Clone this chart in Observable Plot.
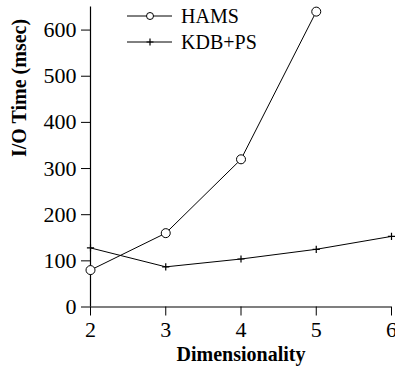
<!DOCTYPE html>
<html><head><meta charset="utf-8">
<script src="https://cdn.jsdelivr.net/npm/d3@7"></script>
<script src="https://cdn.jsdelivr.net/npm/@observablehq/plot@0.6"></script>
<style>
body{margin:0;background:#fff}
</style>
</head><body><div id="chart"></div>
<script>
const xTicks = [2, 3, 4, 5, 6];
const yTicks = [0, 100, 200, 300, 400, 500, 600];
const hamsDims = [2, 3, 4, 5];
const hamsValues = [80, 160, 320, 640];
const kdbDims = [2, 3, 4, 5, 6];
const kdbValues = [128, 87, 104, 125, 153];
const seriesNames = ["HAMS", "KDB+PS"];
const xLabel = "Dimensionality";
const yLabel = "I/O Time (msec)";

const hams = hamsDims.map((d, i) => ({dim: d, value: hamsValues[i]}));
const kdb = kdbDims.map((d, i) => ({dim: d, value: kdbValues[i]}));

const plusSymbol = {
  draw(ctx, size) {
    const r = Math.sqrt(size / Math.PI);
    ctx.moveTo(-r, 0); ctx.lineTo(r, 0);
    ctx.moveTo(0, -r); ctx.lineTo(0, r);
  }
};

const serif = "Liberation Serif";

const plot = Plot.plot({
  width: 395, height: 369,
  marginLeft: 90, marginRight: 4, marginTop: 6.5, marginBottom: 62.5,
  style: {fontFamily: serif, fontSize: "22px", color: "black", background: "white", overflow: "visible"},
  x: {domain: [2, 6]},
  y: {domain: [0, 650]},
  marks: [
    Plot.axisX({ticks: xTicks, tickSize: 9, tickPadding: 5, label: null, tickFormat: d => String(d), fontSize: 22, fontFamily: serif, stroke: "black"}),
    Plot.axisY({ticks: yTicks, tickSize: 9, tickPadding: 5, label: null, tickFormat: d => String(d), fontSize: 22, fontFamily: serif, stroke: "black"}),
    Plot.ruleX([2], {stroke: "black", strokeWidth: 1.2}),
    Plot.ruleY([0], {stroke: "black", strokeWidth: 1.2}),
    Plot.line(hams, {x: "dim", y: "value", stroke: "black", strokeWidth: 1}),
    Plot.line(kdb, {x: "dim", y: "value", stroke: "black", strokeWidth: 1}),
    Plot.dot(hams, {x: "dim", y: "value", r: 4.5, fill: "white", stroke: "black", strokeWidth: 1}),
    Plot.dot(kdb, {x: "dim", y: "value", r: 3.6, symbol: plusSymbol, fill: "none", stroke: "black", strokeWidth: 1.2}),
    Plot.text([xLabel], {frameAnchor: "bottom", lineAnchor: "middle", dy: 48, text: d => d, fontWeight: "bold", fontSize: 20, fontFamily: serif}),
    Plot.text([yLabel], {frameAnchor: "left", lineAnchor: "middle", dx: -71, rotate: -90, text: d => d, fontWeight: "bold", fontSize: 20, fontFamily: serif})
  ]
});

// Legend
const svg = d3.select(plot);
const legend = svg.append("g").attr("font-size", 20).attr("font-family", serif).attr("text-anchor", "start");
const rowY = [16, 42];
seriesNames.forEach((name, i) => {
  const g = legend.append("g").attr("transform", `translate(0,${rowY[i]})`);
  g.append("line").attr("x1", 127).attr("x2", 172).attr("y1", 0).attr("y2", 0).attr("stroke", "black");
  if (i === 0) {
    g.append("circle").attr("cx", 150).attr("cy", 0).attr("r", 3.5).attr("fill", "white").attr("stroke", "black");
  } else {
    g.append("path").attr("d", "M146.5,0H153.5M150,-3.5V3.5").attr("stroke", "black").attr("stroke-width", 1.2);
  }
  g.append("text").attr("x", 181).attr("y", 0).attr("dy", "0.35em").attr("fill", "black").text(name);
});

document.getElementById("chart").appendChild(plot);
</script>
</body></html>
